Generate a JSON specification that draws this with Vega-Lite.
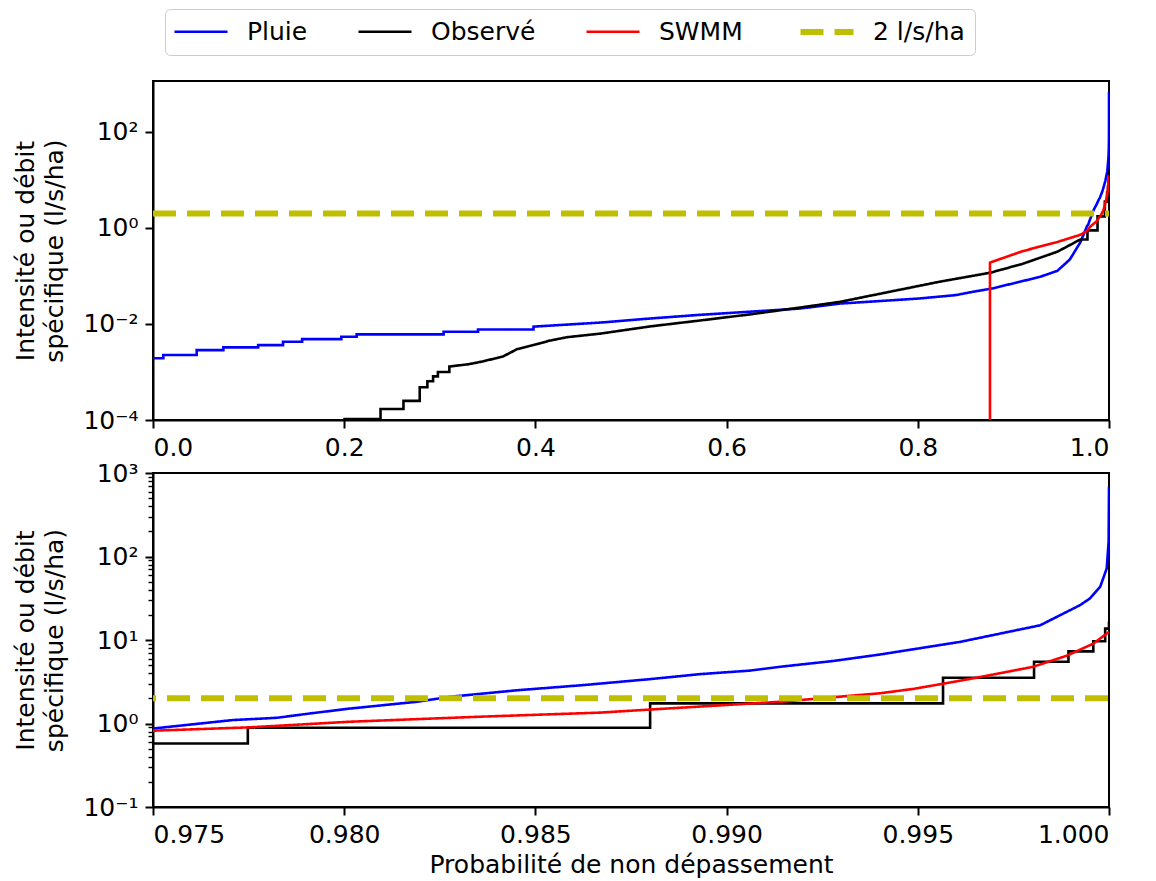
{
  "$schema": "https://vega.github.io/schema/vega-lite/v6.json",
  "padding": {"left": 12, "top": 8, "right": 10, "bottom": 0},
  "bounds": "flush",
  "spacing": 53,
  "config": {
    "font": "DejaVu Sans",
    "view": {"stroke": "#000", "strokeWidth": 2},
    "axis": {
      "labelFont": "DejaVu Sans", "labelFontSize": 25, "labelColor": "#000",
      "titleFont": "DejaVu Sans", "titleFontSize": 25, "titleFontWeight": "normal", "titleColor": "#000",
      "domainColor": "#000", "domainWidth": 2, "tickColor": "#000", "tickWidth": 2, "tickSize": 8,
      "labelPadding": 7, "grid": false, "titleLineHeight": 29
    },
    "axisY": {"titlePadding": 15}
  },
  "datasets": {
    "curves": [
      {"s": "Pluie", "p": 0, "v": 0.00193},
      {"s": "Pluie", "p": 0.0108, "v": 0.00193},
      {"s": "Pluie", "p": 0.0108, "v": 0.00226},
      {"s": "Pluie", "p": 0.0457, "v": 0.00226},
      {"s": "Pluie", "p": 0.0457, "v": 0.00286},
      {"s": "Pluie", "p": 0.0736, "v": 0.00286},
      {"s": "Pluie", "p": 0.0736, "v": 0.00326},
      {"s": "Pluie", "p": 0.110, "v": 0.00326},
      {"s": "Pluie", "p": 0.110, "v": 0.00363},
      {"s": "Pluie", "p": 0.136, "v": 0.00363},
      {"s": "Pluie", "p": 0.136, "v": 0.00427},
      {"s": "Pluie", "p": 0.156, "v": 0.00427},
      {"s": "Pluie", "p": 0.156, "v": 0.00484},
      {"s": "Pluie", "p": 0.197, "v": 0.00484},
      {"s": "Pluie", "p": 0.197, "v": 0.00542},
      {"s": "Pluie", "p": 0.213, "v": 0.00542},
      {"s": "Pluie", "p": 0.213, "v": 0.00606},
      {"s": "Pluie", "p": 0.304, "v": 0.00606},
      {"s": "Pluie", "p": 0.304, "v": 0.0069},
      {"s": "Pluie", "p": 0.340, "v": 0.0069},
      {"s": "Pluie", "p": 0.340, "v": 0.0077},
      {"s": "Pluie", "p": 0.398, "v": 0.0077},
      {"s": "Pluie", "p": 0.398, "v": 0.0088},
      {"s": "Pluie", "p": 0.468, "v": 0.0107},
      {"s": "Pluie", "p": 0.52, "v": 0.013},
      {"s": "Pluie", "p": 0.572, "v": 0.0155},
      {"s": "Pluie", "p": 0.624, "v": 0.018},
      {"s": "Pluie", "p": 0.677, "v": 0.021},
      {"s": "Pluie", "p": 0.719, "v": 0.0266},
      {"s": "Pluie", "p": 0.76, "v": 0.030},
      {"s": "Pluie", "p": 0.802, "v": 0.034},
      {"s": "Pluie", "p": 0.84, "v": 0.040},
      {"s": "Pluie", "p": 0.858, "v": 0.047},
      {"s": "Pluie", "p": 0.878, "v": 0.055},
      {"s": "Pluie", "p": 0.907, "v": 0.076},
      {"s": "Pluie", "p": 0.928, "v": 0.096},
      {"s": "Pluie", "p": 0.946, "v": 0.128},
      {"s": "Pluie", "p": 0.959, "v": 0.22},
      {"s": "Pluie", "p": 0.97, "v": 0.5},
      {"s": "Pluie", "p": 0.975, "v": 0.87},
      {"s": "Pluie", "p": 0.97709, "v": 1.1},
      {"s": "Pluie", "p": 0.97824, "v": 1.17},
      {"s": "Pluie", "p": 0.97911, "v": 1.32},
      {"s": "Pluie", "p": 0.98015, "v": 1.51},
      {"s": "Pluie", "p": 0.9819, "v": 1.82},
      {"s": "Pluie", "p": 0.98277, "v": 2.09},
      {"s": "Pluie", "p": 0.98452, "v": 2.5},
      {"s": "Pluie", "p": 0.98624, "v": 2.88},
      {"s": "Pluie", "p": 0.988, "v": 3.4},
      {"s": "Pluie", "p": 0.9893, "v": 3.9},
      {"s": "Pluie", "p": 0.99061, "v": 4.3},
      {"s": "Pluie", "p": 0.9914, "v": 4.78},
      {"s": "Pluie", "p": 0.99278, "v": 5.6},
      {"s": "Pluie", "p": 0.99401, "v": 6.7},
      {"s": "Pluie", "p": 0.99611, "v": 9.5},
      {"s": "Pluie", "p": 0.9982, "v": 15.0},
      {"s": "Pluie", "p": 0.99872, "v": 19.8},
      {"s": "Pluie", "p": 0.99924, "v": 26.1},
      {"s": "Pluie", "p": 0.9995, "v": 31.4},
      {"s": "Pluie", "p": 0.99977, "v": 43.4},
      {"s": "Pluie", "p": 0.99994, "v": 71.8},
      {"s": "Pluie", "p": 0.99999, "v": 151},
      {"s": "Pluie", "p": 1.0, "v": 684},
      {"s": "Observé", "p": 0.199, "v": 0.000105},
      {"s": "Observé", "p": 0.238, "v": 0.000105},
      {"s": "Observé", "p": 0.238, "v": 0.00017},
      {"s": "Observé", "p": 0.262, "v": 0.00017},
      {"s": "Observé", "p": 0.262, "v": 0.00025},
      {"s": "Observé", "p": 0.279, "v": 0.00025},
      {"s": "Observé", "p": 0.279, "v": 0.00048},
      {"s": "Observé", "p": 0.287, "v": 0.00048},
      {"s": "Observé", "p": 0.287, "v": 0.00064},
      {"s": "Observé", "p": 0.293, "v": 0.00064},
      {"s": "Observé", "p": 0.293, "v": 0.00081},
      {"s": "Observé", "p": 0.298, "v": 0.00081},
      {"s": "Observé", "p": 0.298, "v": 0.0010},
      {"s": "Observé", "p": 0.310, "v": 0.0010},
      {"s": "Observé", "p": 0.310, "v": 0.0013},
      {"s": "Observé", "p": 0.33, "v": 0.00145},
      {"s": "Observé", "p": 0.345, "v": 0.00166},
      {"s": "Observé", "p": 0.357, "v": 0.0019},
      {"s": "Observé", "p": 0.366, "v": 0.0021},
      {"s": "Observé", "p": 0.375, "v": 0.0026},
      {"s": "Observé", "p": 0.381, "v": 0.0030},
      {"s": "Observé", "p": 0.397, "v": 0.0036},
      {"s": "Observé", "p": 0.415, "v": 0.0045},
      {"s": "Observé", "p": 0.433, "v": 0.0053},
      {"s": "Observé", "p": 0.468, "v": 0.0063},
      {"s": "Observé", "p": 0.52, "v": 0.0089},
      {"s": "Observé", "p": 0.572, "v": 0.0118},
      {"s": "Observé", "p": 0.624, "v": 0.0158},
      {"s": "Observé", "p": 0.677, "v": 0.022},
      {"s": "Observé", "p": 0.719, "v": 0.029},
      {"s": "Observé", "p": 0.771, "v": 0.047},
      {"s": "Observé", "p": 0.823, "v": 0.076},
      {"s": "Observé", "p": 0.876, "v": 0.117},
      {"s": "Observé", "p": 0.91, "v": 0.18},
      {"s": "Observé", "p": 0.946, "v": 0.32},
      {"s": "Observé", "p": 0.96, "v": 0.45},
      {"s": "Observé", "p": 0.97, "v": 0.576},
      {"s": "Observé", "p": 0.97748, "v": 0.576},
      {"s": "Observé", "p": 0.97748, "v": 0.89},
      {"s": "Observé", "p": 0.988, "v": 0.89},
      {"s": "Observé", "p": 0.988, "v": 1.74},
      {"s": "Observé", "p": 0.99566, "v": 1.74},
      {"s": "Observé", "p": 0.99566, "v": 3.53},
      {"s": "Observé", "p": 0.99804, "v": 3.53},
      {"s": "Observé", "p": 0.99804, "v": 5.48},
      {"s": "Observé", "p": 0.99894, "v": 5.48},
      {"s": "Observé", "p": 0.99894, "v": 7.3},
      {"s": "Observé", "p": 0.99959, "v": 7.3},
      {"s": "Observé", "p": 0.99959, "v": 9.67},
      {"s": "Observé", "p": 0.9999, "v": 9.67},
      {"s": "Observé", "p": 0.9999, "v": 13.7},
      {"s": "Observé", "p": 1.0, "v": 13.7},
      {"s": "Observé", "p": 1.0, "v": 16.6},
      {"s": "SWMM", "p": 0.8755, "v": 0.000001},
      {"s": "SWMM", "p": 0.8755, "v": 0.19},
      {"s": "SWMM", "p": 0.91, "v": 0.33},
      {"s": "SWMM", "p": 0.946, "v": 0.51},
      {"s": "SWMM", "p": 0.97, "v": 0.72},
      {"s": "SWMM", "p": 0.975, "v": 0.82},
      {"s": "SWMM", "p": 0.97754, "v": 0.9},
      {"s": "SWMM", "p": 0.98015, "v": 1.05},
      {"s": "SWMM", "p": 0.98363, "v": 1.21},
      {"s": "SWMM", "p": 0.98669, "v": 1.35},
      {"s": "SWMM", "p": 0.988, "v": 1.47},
      {"s": "SWMM", "p": 0.9914, "v": 1.82},
      {"s": "SWMM", "p": 0.99244, "v": 2.0},
      {"s": "SWMM", "p": 0.99401, "v": 2.3},
      {"s": "SWMM", "p": 0.99489, "v": 2.6},
      {"s": "SWMM", "p": 0.99576, "v": 3.05},
      {"s": "SWMM", "p": 0.99663, "v": 3.6},
      {"s": "SWMM", "p": 0.99801, "v": 4.77},
      {"s": "SWMM", "p": 0.9989, "v": 6.5},
      {"s": "SWMM", "p": 0.99958, "v": 9.0},
      {"s": "SWMM", "p": 1.0, "v": 12.5},
      {"s": "2 l/s/ha", "p": 0, "v": 2},
      {"s": "2 l/s/ha", "p": 1, "v": 2}
    ]
  },
  "vconcat": [
    {
      "width": 956,
      "height": 339,
      "data": {"name": "curves"},
      "encoding": {
        "x": {"field": "p", "type": "quantitative",
              "scale": {"domain": [0, 1], "nice": false, "zero": false},
              "axis": {"title": null, "values": [0, 0.2, 0.4, 0.6, 0.8, 1], "format": ".1f"}},
        "y": {"field": "v", "type": "quantitative",
              "scale": {"type": "log", "domain": [0.0001, 1150], "nice": false},
              "axis": {"title": ["Intensité ou débit", "spécifique (l/s/ha)"],
                       "values": [0.0001, 0.01, 1, 100],
                       "labelExpr": "datum.value < 0.001 ? '10⁻⁴' : datum.value < 0.1 ? '10⁻²' : datum.value < 10 ? '10⁰' : '10²'"}},
        "order": [{"field": "p", "type": "quantitative"}, {"field": "v", "type": "quantitative"}],
        "color": {"field": "s", "type": "nominal",
                  "scale": {"domain": ["Pluie", "Observé", "SWMM", "2 l/s/ha"], "range": ["#0000ff", "#000000", "#ff0000", "#bfbf00"]},
                  "legend": {"title": null, "orient": "none", "legendX": 12, "legendY": -72, "direction": "horizontal", "columns": 4,
                             "symbolType": "M-2.65,0H2.65", "symbolSize": 400, "symbolOffset": 13, "labelFont": "DejaVu Sans", "labelFontSize": 25, "labelColor": "#000",
                             "labelOffset": 33, "columnPadding": 45, "padding": 10, "strokeColor": "#cccccc", "cornerRadius": 5, "fillColor": "#ffffff"}},
        "strokeDash": {"field": "s", "type": "nominal",
                       "scale": {"domain": ["Pluie", "Observé", "SWMM", "2 l/s/ha"], "range": [[1, 0], [1, 0], [1, 0], [23, 11]]}},
        "strokeWidth": {"field": "s", "type": "nominal",
                        "scale": {"type": "ordinal", "domain": ["Pluie", "Observé", "SWMM", "2 l/s/ha"], "range": [2.6, 2.6, 2.6, 6]}}
      },
      "layer": [
        {"transform": [{"filter": "datum.s === 'Pluie'"}], "mark": {"type": "line", "clip": true}},
        {"transform": [{"filter": "datum.s === 'Observé'"}], "mark": {"type": "line", "clip": true}},
        {"transform": [{"filter": "datum.s === 'SWMM'"}], "mark": {"type": "line", "clip": true}},
        {"transform": [{"filter": "datum.s === '2 l/s/ha'"}], "mark": {"type": "line", "clip": true}}
      ]
    },
    {
      "width": 956,
      "height": 334,
      "data": {"name": "curves"},
      "encoding": {
        "x": {"field": "p", "type": "quantitative",
              "scale": {"domain": [0.975, 1], "nice": false, "zero": false},
              "axis": {"title": "Probabilité de non dépassement", "values": [0.975, 0.98, 0.985, 0.99, 0.995, 1], "format": ".3f", "titlePadding": 5}},
        "y": {"field": "v", "type": "quantitative",
              "scale": {"type": "log", "domain": [0.1, 1000], "nice": false},
              "axis": {"title": ["Intensité ou débit", "spécifique (l/s/ha)"],
                       "values": [0.1, 0.2, 0.3, 0.4, 0.5, 0.6, 0.7, 0.8, 0.9, 1, 2, 3, 4, 5, 6, 7, 8, 9, 10, 20, 30, 40, 50, 60, 70, 80, 90, 100, 200, 300, 400, 500, 600, 700, 800, 900, 1000],
                       "labelExpr": "datum.value == 0.1 ? '10⁻¹' : datum.value == 1 ? '10⁰' : datum.value == 10 ? '10¹' : datum.value == 100 ? '10²' : datum.value == 1000 ? '10³' : ''",
                       "tickSize": {"condition": {"test": "indexof([0.1, 1, 10, 100, 1000], datum.value) >= 0", "value": 8}, "value": 5},
                       "tickWidth": {"condition": {"test": "indexof([0.1, 1, 10, 100, 1000], datum.value) >= 0", "value": 2}, "value": 1.4}}},
        "order": [{"field": "p", "type": "quantitative"}, {"field": "v", "type": "quantitative"}],
        "color": {"field": "s", "type": "nominal",
                  "scale": {"domain": ["Pluie", "Observé", "SWMM", "2 l/s/ha"], "range": ["#0000ff", "#000000", "#ff0000", "#bfbf00"]}},
        "strokeDash": {"field": "s", "type": "nominal",
                       "scale": {"domain": ["Pluie", "Observé", "SWMM", "2 l/s/ha"], "range": [[1, 0], [1, 0], [1, 0], [23, 11]]}},
        "strokeWidth": {"field": "s", "type": "nominal",
                        "scale": {"type": "ordinal", "domain": ["Pluie", "Observé", "SWMM", "2 l/s/ha"], "range": [2.6, 2.6, 2.6, 6]}}
      },
      "layer": [
        {"transform": [{"filter": "datum.s === 'Pluie'"}], "mark": {"type": "line", "clip": true}},
        {"transform": [{"filter": "datum.s === 'Observé'"}], "mark": {"type": "line", "clip": true}},
        {"transform": [{"filter": "datum.s === 'SWMM'"}], "mark": {"type": "line", "clip": true}},
        {"transform": [{"filter": "datum.s === '2 l/s/ha'"}], "mark": {"type": "line", "clip": true}}
      ]
    }
  ]
}
